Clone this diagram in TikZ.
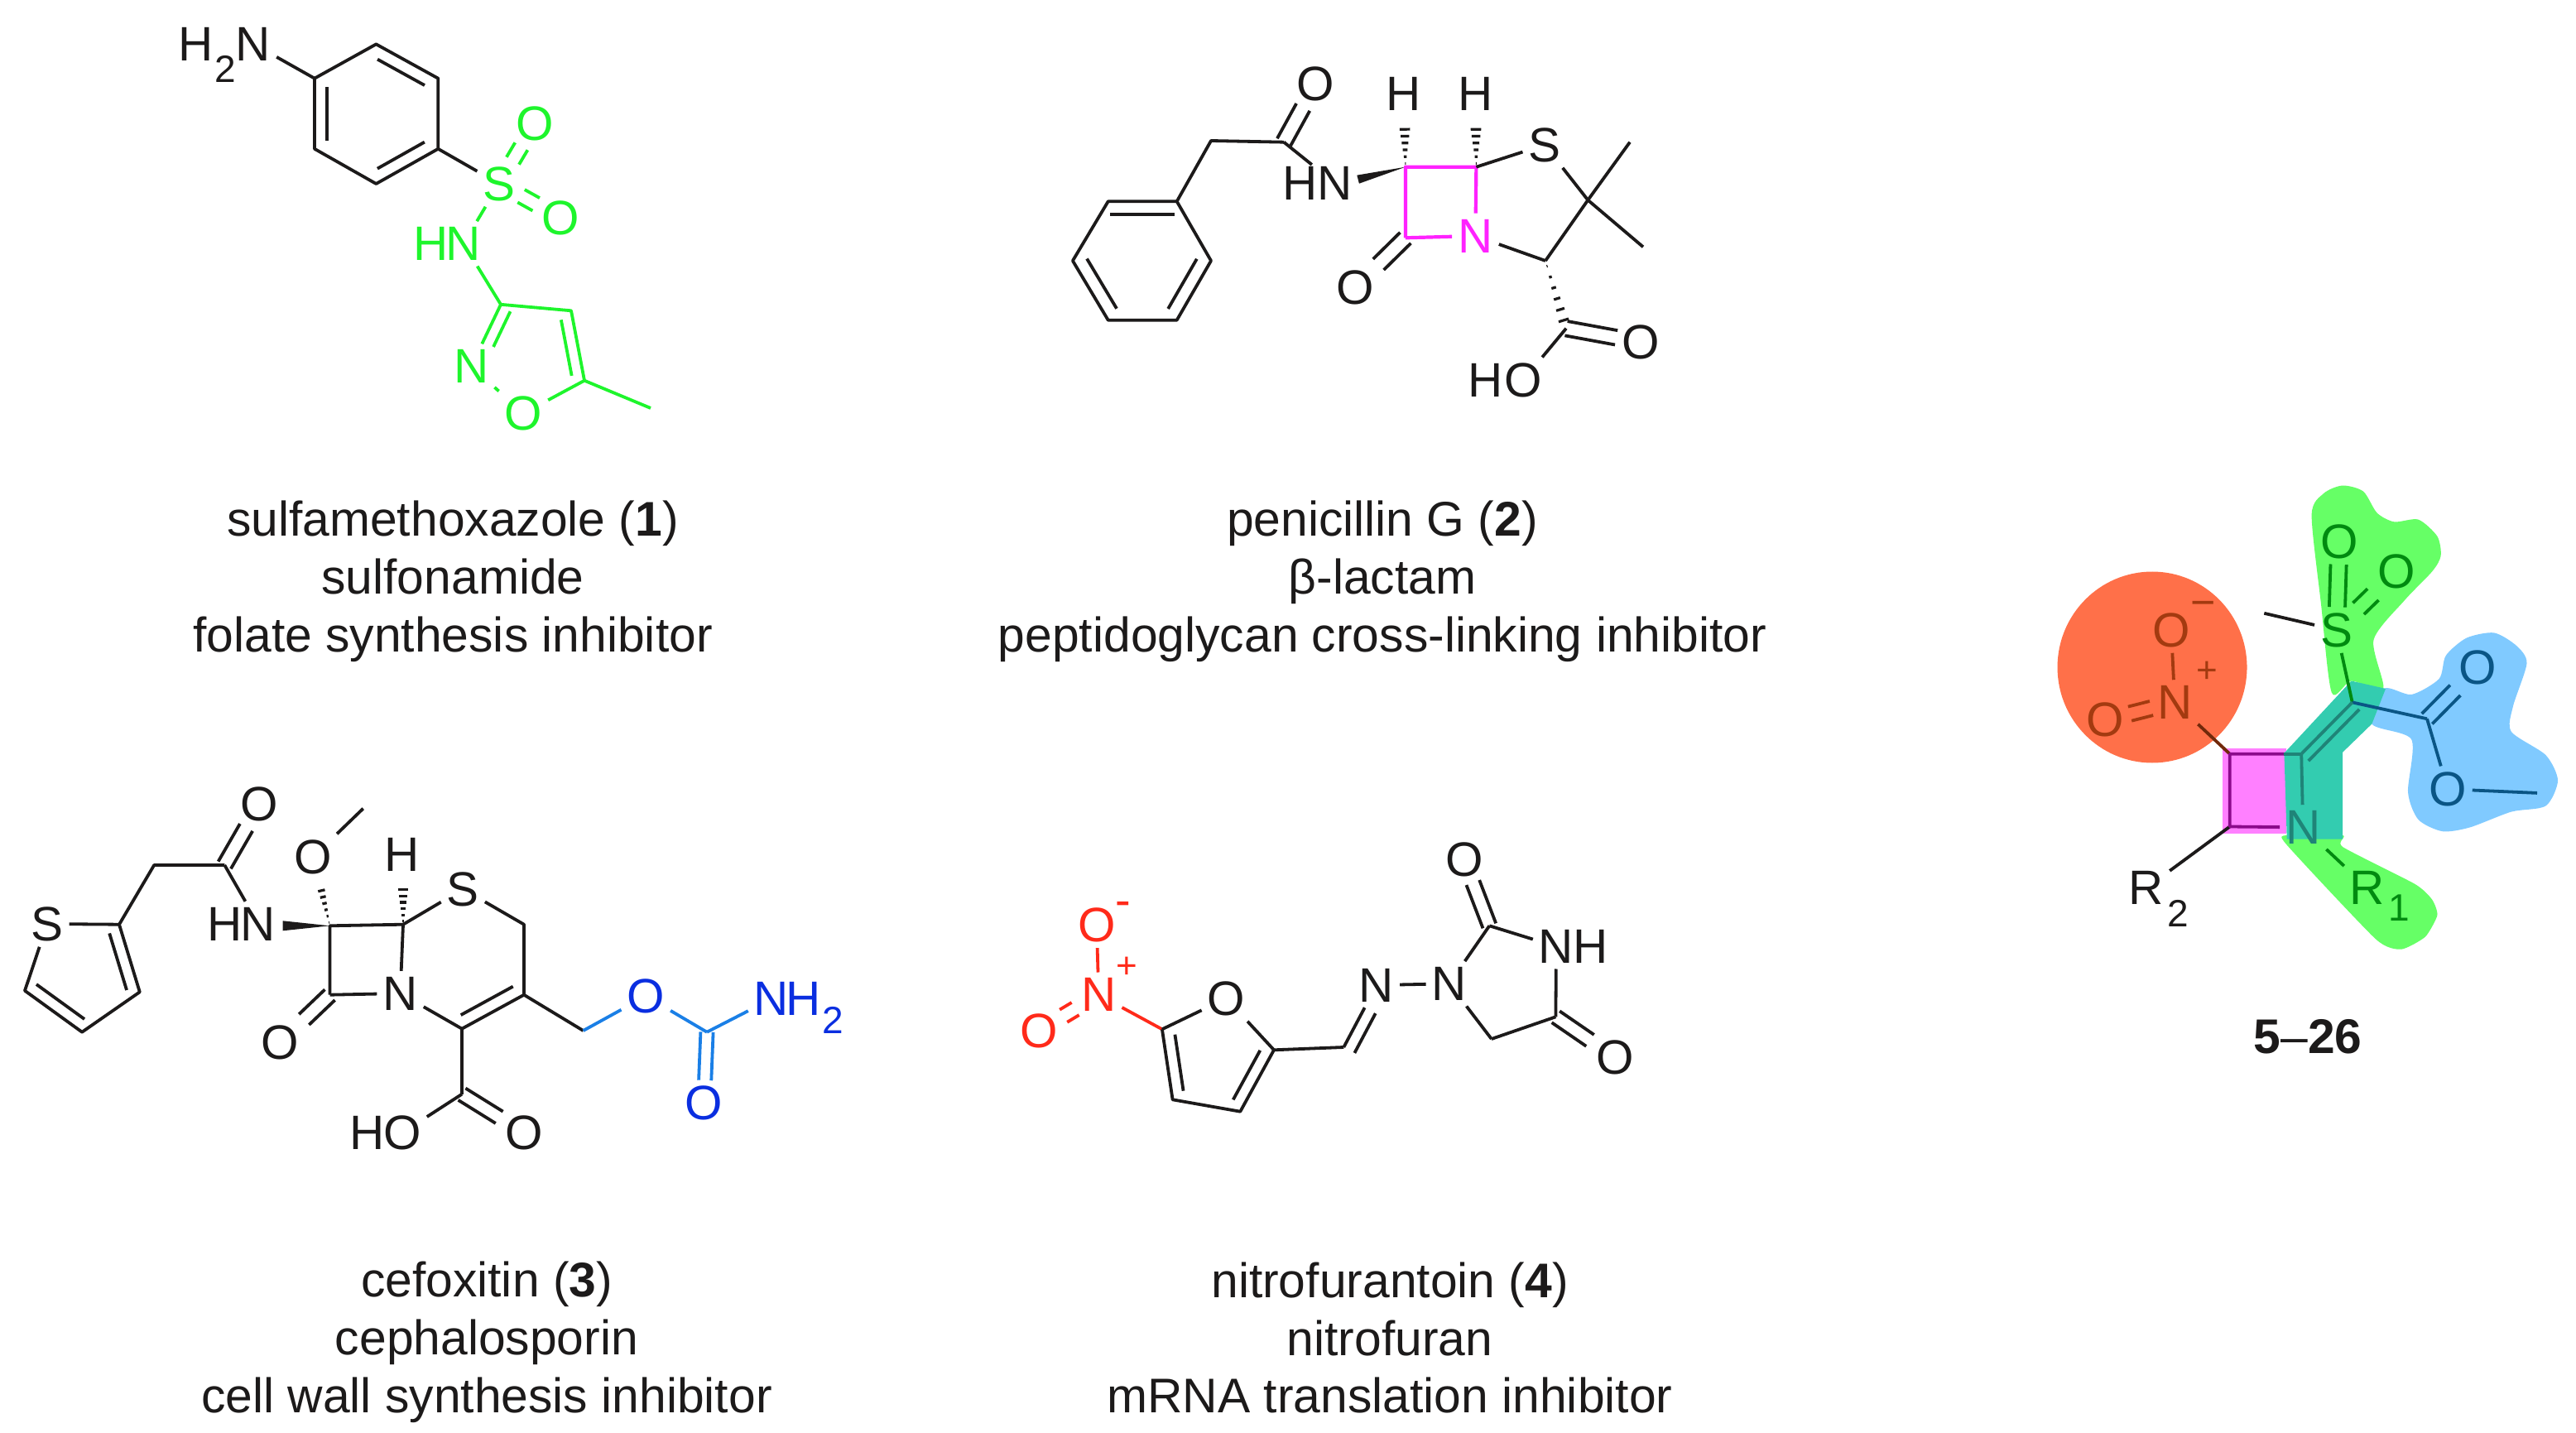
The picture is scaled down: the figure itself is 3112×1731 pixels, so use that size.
\documentclass[tikz,border=0pt]{standalone}
\usepackage{fontspec}
\setmainfont{Liberation Sans}
\usetikzlibrary{calc}
\definecolor{ink}{HTML}{1C1A1A}
\definecolor{lime}{HTML}{1EF52C}
\definecolor{mag}{HTML}{FF22FF}
\definecolor{redd}{HTML}{FF2A1A}
\definecolor{bluetext}{HTML}{0A2EE0}
\definecolor{bluebond}{HTML}{1A7FE6}
\definecolor{fillorange}{HTML}{FF7049}
\definecolor{fillmag}{HTML}{FF80FF}
\definecolor{fillgreen}{HTML}{66FF66}
\definecolor{fillblue}{HTML}{80CAFF}
\definecolor{fillteal}{HTML}{33CCB0}
\definecolor{dkorange}{HTML}{A33A10}
\definecolor{dkmag}{HTML}{8B0A8B}
\definecolor{dkgreen}{HTML}{008A10}
\definecolor{dkblue}{HTML}{0A5585}
\definecolor{dkteal}{HTML}{1F8478}
\tikzset{
  atom/.style={inner sep=1.3pt,font=\fontsize{14.6}{17}\selectfont},
  subsc/.style={inner sep=0pt,font=\fontsize{11.5}{13}\selectfont},
  chargeplus/.style={inner sep=0pt,font=\fontsize{11}{13}\selectfont},
  chargeminus/.style={inner sep=0pt,font=\fontsize{13}{13}\selectfont},
  captiontext/.style={inner sep=0pt,align=center,text=ink,font=\fontsize{14.7}{17.45}\selectfont},
  hashline/.style={line width=.8pt,line cap=butt}
}
% double bond centred on the line a-b
\newcommand{\dbl}[3]{\path (#1) -- (#2) coordinate[pos=0] (tA) coordinate[pos=1] (tB);
  \draw ($(tA)!#3!90:(tB)$) -- ($(tB)!#3!-90:(tA)$);
  \draw ($(tA)!#3!-90:(tB)$) -- ($(tB)!#3!90:(tA)$);}
% second line beside a bond a-b: signed offset, trimmed by a fraction
\newcommand{\inr}[4]{\path (#1) -- (#2) coordinate[pos=0] (tA) coordinate[pos=1] (tB);
  \draw ($(tA)!#4!(tB)!#3!90:(tB)$) -- ($(tB)!#4!(tA)!#3!-90:(tA)$);}
% solid wedge: narrow at a, wide at b
\newcommand{\wdg}[3]{\fill (#1) -- ($(#2)!#3!90:(#1)$) -- ($(#2)!#3!-90:(#1)$) -- cycle;}
% hashed wedge: narrow at a, wide at b
\newcommand{\hsh}[3]{\foreach \tt in {.08,.24,.40,.56,.72,.88,1}{
  \draw[hashline] ($(#1)!\tt!(#2)!{\tt*#3}!90:(#2)$) -- ($(#1)!\tt!(#2)!{\tt*#3}!-90:(#2)$);}}
\begin{document}
\begin{tikzpicture}[x=.25pt,y=-.25pt,line width=.95pt,line join=round,color=ink]
\useasboundingbox (0,0) rectangle (3112,1731);

% ===== captions =====
\node[captiontext] (cap1) at (547,702.5) {sulfamethoxazole (\textbf{1})\\sulfonamide\\folate synthesis inhibitor};
\node[captiontext] (cap2) at (1670,702.5) {penicillin G (\textbf{2})\\β-lactam\\peptidoglycan cross-linking inhibitor};
\node[captiontext] (cap3) at (588,1621.5) {cefoxitin (\textbf{3})\\cephalosporin\\cell wall synthesis inhibitor};
\node[captiontext] (cap4) at (1679,1616) {nitrofurantoin (\textbf{4})\\nitrofuran\\mRNA translation inhibitor};
\node[captiontext] (cap5) at (2788,1252) {\textbf{5}–\textbf{26}};

% ===== sulfamethoxazole =====
\coordinate (a1) at (380,94.7);
\coordinate (a2) at (454.4,53.4);
\coordinate (a3) at (529.3,94.7);
\coordinate (a4) at (529.3,179.8);
\coordinate (a5) at (454.4,222);
\coordinate (a6) at (380,179.8);
\node[atom] (aH) at (237,53) {H};
\node[subsc] (aSub) at (272,83) {2};
\node[atom] (aN) at (306,53) {N};
\draw (a1) -- (a2) -- (a3) -- (a4) -- (a5) -- (a6) -- cycle;
\inr{a2}{a3}{-3.8pt}{.12}
\inr{a4}{a5}{-3.8pt}{.12}
\inr{a6}{a1}{-3.8pt}{.12}
\draw (aN) -- (a1);
\begin{scope}[color=lime]
\node[atom] (aS) at (603,222) {S};
\node[atom] (aO1) at (646.3,149) {O};
\node[atom] (aO2) at (677.5,263.4) {O};
\node[atom] (aN2) at (560,294.4) {N};
\node[atom] (aH2) at (521,294.4) {H};
\coordinate (aC3) at (605,367.8);
\coordinate (aC4) at (690,375.3);
\coordinate (aC5) at (706,459.7);
\node[atom] (aO3) at (632.4,499.3) {O};
\node[atom] (aNi) at (569.3,442.5) {N};
\coordinate (aMe) at (786,493);
\dbl{aS}{aO1}{2.2pt}
\dbl{aS}{aO2}{2.2pt}
\draw (aS) -- (aN2);
\draw (aN2) -- (aC3);
\draw (aC3) -- (aC4) -- (aC5);
\draw (aC5) -- (aO3);
\draw (aO3) -- (aNi);
\draw (aNi) -- (aC3);
\draw (aC5) -- (aMe);
\inr{aC4}{aC5}{-3.5pt}{.1}
\inr{aNi}{aC3}{-3.5pt}{.05}
\end{scope}
\draw (a4) -- (aS);

% ===== penicillin G =====
\coordinate (b1) at (1421.7,243.3);
\coordinate (b2) at (1463,315);
\coordinate (b3) at (1421.7,386.7);
\coordinate (b4) at (1338.7,386.7);
\coordinate (b5) at (1295.9,315);
\coordinate (b6) at (1338.7,243.3);
\draw (b1) -- (b2) -- (b3) -- (b4) -- (b5) -- (b6) -- cycle;
\inr{b6}{b1}{-4pt}{.03}
\inr{b2}{b3}{-4pt}{.08}
\inr{b4}{b5}{-4pt}{.08}
\coordinate (bCH2) at (1463,170);
\coordinate (bCO) at (1551,171.7);
\node[atom] (bO) at (1589.4,101.7) {O};
\node[atom] (bN) at (1613,221.7) {N};
\node[atom] (bH) at (1571,221.7) {H};
\draw (b1) -- (bCH2) -- (bCO);
\dbl{bCO}{bO}{2.3pt}
\draw (bCO) -- (bN);
\coordinate (bC7) at (1697.9,201.7);
\coordinate (bC6) at (1783.4,201.7);
\coordinate (bC8) at (1697.9,287.3);
\coordinate (bW) at (1640.6,216.7);
\wdg{bC7}{bW}{1.3pt}
\node[atom] (bHa) at (1695.4,113.3) {H};
\node[atom] (bHb) at (1782.4,113.3) {H};
\coordinate (bHae) at (1697,150);
\coordinate (bHbe) at (1783,150);
\hsh{bC7}{bHae}{1.8pt}
\hsh{bC6}{bHbe}{1.8pt}
\begin{scope}[color=mag,line width=1.05pt]
\node[atom] (bNN) at (1782.4,285) {N};
\draw (bC8) -- (bC7) -- (bC6) -- (bNN);
\draw (bC8) -- (bNN);
\end{scope}
\node[atom] (bS) at (1866,175) {S};
\coordinate (bQ) at (1918.3,241.7);
\coordinate (bM1) at (1969,171.7);
\coordinate (bM2) at (1985,298.3);
\coordinate (bC3) at (1867,315);
\coordinate (bCc) at (1892,396.7);
\node[atom] (bO2) at (1637,347.3) {O};
\node[atom] (bOc) at (1982.4,413.3) {O};
\node[atom] (bHOh) at (1795,459.3) {H};
\node[atom] (bHOo) at (1840,459.3) {O};
\draw (bC6) -- (bS);
\draw (bS) -- (bQ);
\draw (bQ) -- (bM1);
\draw (bQ) -- (bM2);
\draw (bQ) -- (bC3);
\draw (bNN) -- (bC3);
\dbl{bC8}{bO2}{2.3pt}
\hsh{bC3}{bCc}{1.8pt}
\dbl{bCc}{bOc}{2.2pt}
\draw (bCc) -- (bHOo);

% ===== cefoxitin =====
\node[atom] (cS1) at (57,1116) {S};
\coordinate (cC2) at (144,1116.7);
\coordinate (cC3) at (168.8,1198.3);
\coordinate (cC4) at (99.1,1246.7);
\coordinate (cC5) at (30,1196.7);
\draw (cS1) -- (cC2) -- (cC3) -- (cC4) -- (cC5) -- (cS1);
\inr{cC2}{cC3}{-3.6pt}{.08}
\inr{cC4}{cC5}{-3.6pt}{.08}
\coordinate (cCH2) at (186.2,1045);
\coordinate (cCO) at (271.3,1045);
\node[atom] (cO1) at (313.5,971.7) {O};
\node[atom] (cN) at (312,1116) {N};
\node[atom] (cH) at (272,1116) {H};
\draw (cC2) -- (cCH2) -- (cCO);
\dbl{cCO}{cO1}{2.2pt}
\draw (cCO) -- (cN);
\coordinate (cC7) at (398.5,1118.3);
\coordinate (cC6) at (487,1116.7);
\coordinate (cC8) at (398.5,1201.7);
\coordinate (cW) at (341.6,1118.3);
\node[atom] (cNN) at (483.6,1200) {N};
\wdg{cC7}{cW}{1.5pt}
\draw (cC8) -- (cC7) -- (cC6) -- (cNN);
\draw (cC8) -- (cNN);
\node[atom] (cO2) at (338.2,1259.3) {O};
\dbl{cC8}{cO2}{2.2pt}
\node[atom] (cOM) at (378.4,1035) {O};
\coordinate (cMe) at (438.7,976.7);
\draw (cOM) -- (cMe);
\coordinate (cHae) at (387,1070);
\hsh{cC7}{cHae}{1.2pt}
\node[atom] (cHb) at (485.6,1032.7) {H};
\coordinate (cHbe) at (487,1069);
\hsh{cC6}{cHbe}{1.8pt}
\node[atom] (cS2) at (559.3,1074) {S};
\coordinate (cC5r) at (633,1116.7);
\coordinate (cC4r) at (633,1201.7);
\coordinate (cC3r) at (558,1242.7);
\coordinate (cCOOH) at (558,1321.7);
\node[atom] (cHOh) at (444,1368.3) {H};
\node[atom] (cHOo) at (486,1368.3) {O};
\node[atom] (cOx) at (633,1368.3) {O};
\coordinate (cCH3) at (704.6,1245);
\draw (cC6) -- (cS2);
\draw (cS2) -- (cC5r) -- (cC4r) -- (cC3r);
\inr{cC4r}{cC3r}{-3.8pt}{.08}
\draw (cNN) -- (cC3r);
\draw (cC3r) -- (cCOOH);
\draw (cCOOH) -- (cHOo);
\dbl{cCOOH}{cOx}{2.1pt}
\draw (cC4r) -- (cCH3);
\begin{scope}[color=bluebond]
\node[atom,text=bluetext] (cO3) at (780.3,1203.3) {O};
\coordinate (cC9) at (854,1246.7);
\node[atom,text=bluetext] (cN3) at (932,1206.7) {N};
\node[atom,text=bluetext] (cH3) at (971,1206.7) {H};
\node[subsc,text=bluetext] (cSub) at (1006,1232) {2};
\node[atom,text=bluetext] (cOb) at (850.6,1332.7) {O};
\draw (cCH3) -- (cO3);
\draw (cO3) -- (cC9);
\draw (cC9) -- (cN3);
\dbl{cC9}{cOb}{1.9pt}
\end{scope}

% ===== nitrofurantoin =====
\begin{scope}[color=redd]
\node[atom] (dN) at (1327.3,1201.7) {N};
\node[atom] (dO1) at (1324.8,1117.3) {O};
\node[atom] (dO2) at (1254.9,1245) {O};
\node[chargeminus,font=\fontsize{14}{14}\selectfont] (dm) at (1356.4,1098) {-};
\node[chargeplus] (dp) at (1361.5,1168.3) {+};
\coordinate (dC5) at (1403.9,1243.3);
\draw (dN) -- (dO1);
\dbl{dN}{dO2}{2.2pt}
\draw (dN) -- (dC5);
\end{scope}
\node[atom] (dO) at (1481.4,1206) {O};
\coordinate (dC2) at (1539,1268.3);
\coordinate (dC3) at (1498.3,1342.7);
\coordinate (dC4) at (1416.6,1328.3);
\coordinate (dCH) at (1623.3,1265);
\node[atom] (dNa) at (1663,1190) {N};
\node[atom] (dNb) at (1750.8,1188.3) {N};
\coordinate (dCa) at (1799.3,1118.3);
\node[atom] (dNH) at (1880,1143.3) {N};
\node[atom] (dHH) at (1922,1143.3) {H};
\coordinate (dCb) at (1879.4,1228.3);
\coordinate (dCd) at (1801.8,1255);
\node[atom] (dOa) at (1768.7,1038.3) {O};
\node[atom] (dOb) at (1950.8,1277.3) {O};
\draw (dC5) -- (dO);
\draw (dO) -- (dC2);
\draw (dC2) -- (dC3) -- (dC4) -- (dC5);
\inr{dC2}{dC3}{-3.6pt}{.1}
\inr{dC4}{dC5}{-3.6pt}{.1}
\draw (dC2) -- (dCH);
\draw (dCH) -- (dNa);
\inr{dCH}{dNa}{-3.7pt}{0}
\draw (dNa) -- (dNb);
\draw (dNb) -- (dCa);
\draw (dCa) -- (dNH);
\draw (dNH) -- (dCb);
\draw (dCb) -- (dCd);
\draw (dCd) -- (dNb);
\dbl{dCa}{dOa}{2.1pt}
\dbl{dCb}{dOb}{2.1pt}

% ===== scaffold 5-26: highlights =====
\fill[fillorange] (2600,806) ellipse [x radius=114.5, y radius=115.5];
\fill[fillmag] (2684.5,904) rectangle (2762,1006.5);
\fill[fillgreen] plot[smooth cycle,tension=.45] coordinates {(2792.6,621.9) (2807.2,596) (2830,586.5) (2855,593.6) (2871.6,619.6) (2892.4,630.4) (2921.5,627.6) (2944.4,647.9) (2948.6,671.5) (2938.2,690.3) (2905,725) (2867.5,772.9) (2879,831.9) (2840.5,822.5) (2816.8,836.6) (2804,730)};
\fill[fillgreen] plot[smooth cycle,tension=.35] coordinates {(2762.7,1008.9) (2830,1008.9) (2830,1023) (2917.4,1067.9) (2938.2,1086.8) (2944.4,1105.6) (2929.9,1131.6) (2900.7,1146.7) (2869.6,1134) (2762.7,1020.7)};
\fill[fillblue] plot[smooth cycle,tension=.45] coordinates {(2880,831.9) (2913.2,839) (2946.5,820) (2954.8,791.8) (2979.8,770.6) (3013,764.4) (3040,780) (3052.5,801.2) (3035.9,853.2) (3033.8,883.8) (3075.4,912.1) (3090,942.8) (3075.4,973.5) (3033.8,980.6) (2983.9,999.4) (2950.6,1004.2) (2921.5,990) (2909,957) (2913.2,893.3) (2865.4,874.4)};
\fill[fillteal] (2759.4,909.8) -- (2840.5,822.5) -- (2882,831.9) -- (2865.4,874.4) -- (2830,908.8) -- (2830,1013.6) -- (2762.7,1013.6) -- cycle;

% ===== scaffold 5-26: structure =====
\coordinate (eA) at (2693.7,910.7);
\coordinate (eB) at (2693.7,998.5);
\coordinate (eTop) at (2759.4,910.7);
\coordinate (eCv) at (2780.2,910.7);
\coordinate (eC) at (2841.7,848.4);
\coordinate (eCe) at (2932,868.3);
\coordinate (eMe) at (2735.3,740.8);
\coordinate (eMe2) at (3065,957.9);
\node[atom,text=dkgreen] (eS) at (2822.6,761.1) {S};
\node[atom,text=dkgreen] (eOa) at (2825.9,654) {O};
\node[atom,text=dkgreen] (eOb) at (2895.3,690.3) {O};
\node[atom,text=dkteal] (eNN) at (2782.2,999.4) {N};
\node[atom,text=dkgreen] (eR1) at (2860,1072.6) {R};
\node[subsc,text=dkgreen] (eR1s) at (2898.7,1096.2) {1};
\node[atom,text=dkblue] (eOc) at (2993.5,806) {O};
\node[atom,text=dkblue] (eOe) at (2956.9,953.2) {O};
\node[atom,text=dkorange] (eNi) at (2627.2,848.4) {N};
\node[atom,text=dkorange] (eOu) at (2623,761) {O};
\node[atom,text=dkorange] (eOl) at (2543.2,869.7) {O};
\node[chargeplus,text=dkorange] (ep) at (2666.7,811.6) {+};
\node[chargeminus,text=dkorange] (em) at (2661.7,736) {−};
\node[atom] (eR2) at (2593,1072.6) {R};
\node[subsc] (eR2s) at (2631.7,1103.3) {2};
\draw (eMe) -- (eS);
\draw (eB) -- (eR2);
\begin{scope}[color=dkgreen]
\dbl{eS}{eOa}{2.4pt}
\dbl{eS}{eOb}{2.4pt}
\draw (eS) -- (eC);
\draw (eNN) -- (eR1);
\end{scope}
\begin{scope}[color=dkblue]
\draw (eC) -- (eCe);
\dbl{eCe}{eOc}{2.2pt}
\draw (eCe) -- (eOe);
\draw (eOe) -- (eMe2);
\end{scope}
\begin{scope}[color=dkorange]
\draw (eNi) -- (eOu);
\dbl{eNi}{eOl}{2.2pt}
\end{scope}
\draw[color=dkorange!70!black] (eNi) -- (eA);
\begin{scope}[color=dkmag]
\draw (eTop) -- (eA) -- (eB) -- (eNN);
\end{scope}
\begin{scope}[color=dkteal]
\draw (eTop) -- (eCv);
\draw (eCv) -- (eNN);
\draw (eC) -- (eCv);
\inr{eC}{eCv}{3pt}{0}
\end{scope}
\end{tikzpicture}
\end{document}
